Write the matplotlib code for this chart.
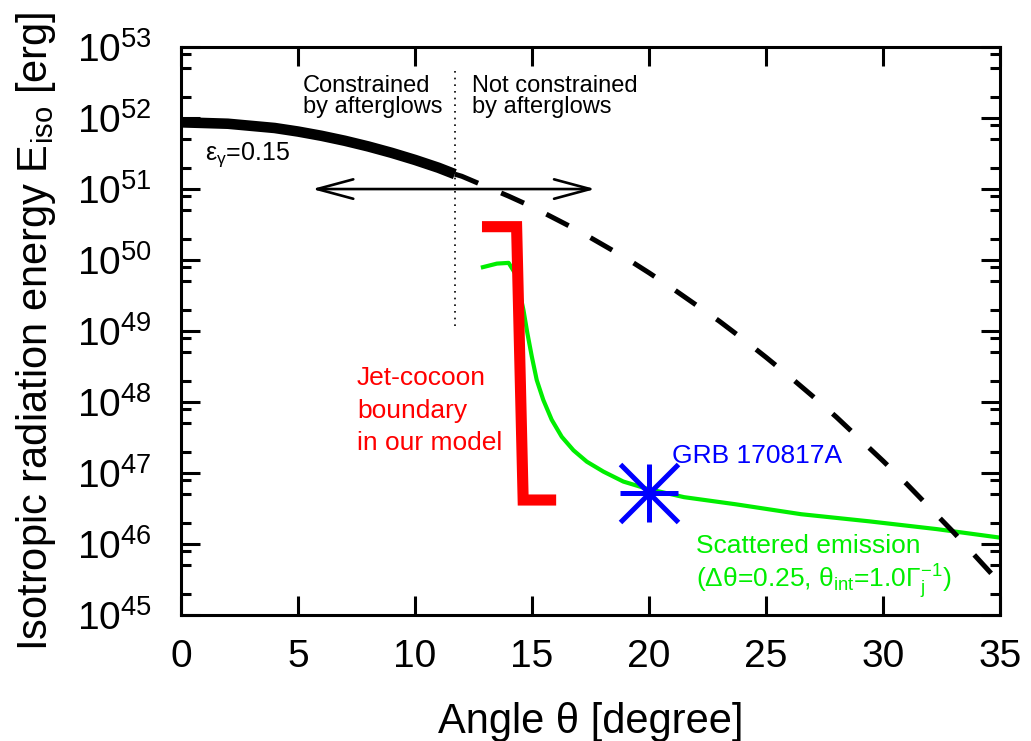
import matplotlib
matplotlib.use('Agg')
import matplotlib.pyplot as plt
from matplotlib.ticker import LogLocator, NullFormatter, MultipleLocator, NullLocator

plt.rcParams['font.family'] = ['Liberation Sans', 'DejaVu Sans']
plt.rcParams['mathtext.fontset'] = 'custom'
plt.rcParams['mathtext.rm'] = 'Liberation Sans'
plt.rcParams['mathtext.it'] = 'Liberation Sans:italic'
plt.rcParams['mathtext.bf'] = 'Liberation Sans:bold'

# jet emission (eps_gamma = 0.15), log10 of E_iso [erg]
theta_jet = [0, 1, 2, 3, 4, 5, 6, 7, 8, 9, 10, 11, 11.7]
logE_jet = [51.94, 51.93, 51.92, 51.89, 51.86, 51.81, 51.75, 51.68, 51.60,
            51.51, 51.41, 51.30, 51.21]

# same curve beyond the afterglow constraint (dashed)
theta_ext = [11.7, 12, 13, 14, 15, 16, 17, 18, 19, 20, 21, 22, 23, 24, 25,
             26, 27, 28, 29, 30, 31, 32, 33, 34, 35]
logE_ext = [51.21, 51.18, 51.04, 50.90, 50.75, 50.58, 50.41, 50.22, 50.03,
            49.82, 49.60, 49.37, 49.14, 48.89, 48.63, 48.36, 48.08, 47.79,
            47.48, 47.17, 46.85, 46.51, 46.17, 45.81, 45.45]

# scattered emission
theta_sc = [12.9, 13.5, 14.0, 14.3, 14.63, 14.80, 14.99, 15.20, 15.48, 15.84,
            16.27, 16.77, 17.34, 18.05, 18.9, 19.9, 21.5, 23.7, 26.5, 29.4,
            32.3, 35.0]
logE_sc = [49.90, 49.95, 49.96, 49.80, 49.30, 48.97, 48.64, 48.31, 48.03,
           47.75, 47.51, 47.32, 47.16, 47.02, 46.88, 46.78, 46.66, 46.56,
           46.42, 46.32, 46.21, 46.09]

# jet-cocoon boundary bracket
theta_bd = [12.86, 14.34, 14.62, 16.03]
logE_bd = [50.47, 50.47, 46.62, 46.62]

# GRB 170817A
theta_grb = 20.0
logE_grb = 46.72

theta_cut = 11.7

fig = plt.figure(figsize=(10.31, 7.41), dpi=100)
ax = fig.add_axes([0.1756, 0.1700, 0.7944, 0.7665])

ax.plot(theta_jet, [10 ** v for v in logE_jet], color='k', lw=7.6,
        solid_capstyle='butt', zorder=3)
ax.plot(theta_ext, [10 ** v for v in logE_ext], color='k', lw=3.6,
        dashes=(5, 5), dash_capstyle='butt', zorder=3)
ax.plot(theta_sc, [10 ** v for v in logE_sc], color='#00ee00', lw=3,
        zorder=2)
ax.plot(theta_bd, [10 ** v for v in logE_bd], color='#ff0000', lw=8,
        solid_joinstyle='miter', solid_capstyle='butt', zorder=4)
for m in ['+', 'x']:
    ax.plot([theta_grb], [10 ** logE_grb], marker=m, color='#0000ff',
            markersize=42, mew=3.6, zorder=5)

ax.plot([theta_cut, theta_cut], [10 ** 52.66, 10 ** 49.0], color='k',
        lw=1.2, linestyle=(0, (1, 3)), zorder=1)

ax.annotate('', xy=(5.6, 1e51), xytext=(17.7, 1e51),
            arrowprops=dict(arrowstyle='<->,head_length=2.6,head_width=0.7',
                            lw=1.9, color='k', mutation_scale=10,
                            shrinkA=0, shrinkB=0))

fs_s = 17
ax.text(5.2, 10 ** 52.37, 'Constrained', fontsize=fs_s, va='baseline')
ax.text(5.2, 10 ** 52.07, 'by afterglows', fontsize=fs_s, va='baseline')
ax.text(12.44, 10 ** 52.37, 'Not constrained', fontsize=fs_s, va='baseline')
ax.text(12.44, 10 ** 52.07, 'by afterglows', fontsize=fs_s, va='baseline')
ax.text(1.03, 10 ** 51.41, r'ε$_\mathrm{γ}$=0.15', fontsize=18, va='baseline')

fs_m = 19
for i, s in enumerate(['Jet-cocoon', 'boundary', 'in our model']):
    ax.text(7.52, 10 ** (48.24 - 0.46 * i), s, fontsize=fs_m,
            color='#ff0000', va='baseline')
ax.text(21.0, 10 ** 47.14, 'GRB 170817A', fontsize=fs_m, color='#0000ff',
        va='baseline')
ax.text(22.0, 10 ** 45.87, 'Scattered emission', fontsize=fs_m,
        color='#00ee00', va='baseline')
ax.text(22.0, 10 ** 45.39,
        r'(Δθ=0.25, θ$_\mathrm{int}$=1.0$\mathrm{Γ}_\mathrm{j}^\mathrm{-1}$)',
        fontsize=fs_m, color='#00ee00', va='baseline')

ax.set_xlim(0, 35)
ax.set_yscale('log')
ax.set_ylim(1e45, 1e53)
ax.xaxis.set_major_locator(MultipleLocator(5))
ax.xaxis.set_minor_locator(NullLocator())
ax.yaxis.set_major_locator(LogLocator(base=10, numticks=20))
ax.yaxis.set_minor_locator(LogLocator(base=10, subs=[2, 5, 8], numticks=20))
ax.yaxis.set_minor_formatter(NullFormatter())

ax.tick_params(which='both', direction='in', top=True, right=True,
               width=2.2, labelsize=28)
ax.tick_params(which='major', length=14)
ax.tick_params(which='minor', length=7)
ax.tick_params(axis='x', pad=17)
ax.tick_params(axis='y', pad=21)
for sp in ax.spines.values():
    sp.set_linewidth(2.2)

ax.set_xlabel('Angle θ [degree]', fontsize=30, labelpad=20)
ax.set_ylabel(r'Isotropic radiation energy E$_\mathrm{iso}$ [erg]',
              fontsize=30, labelpad=14)

fig.savefig('out.png', dpi=100)
